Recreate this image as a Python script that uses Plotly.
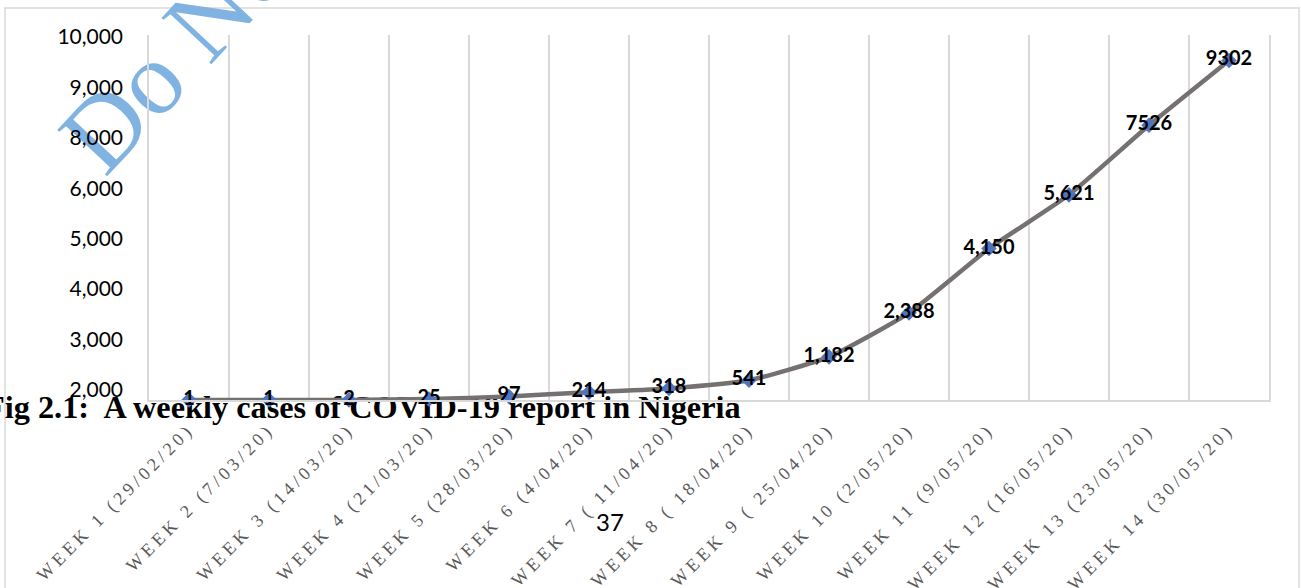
import numpy as np
import plotly.graph_objects as go

# Cas hebdomadaires COVID-19 au Nigeria (figure 2.1 du document scanné)

WEEKS = [
    "WEEK 1 (29/02/20)", "WEEK 2 (7/03/20)", "WEEK 3 (14/03/20)", "WEEK 4 (21/03/20)",
    "WEEK 5 (28/03/20)", "WEEK 6 (4/04/20)", "WEEK 7 ( 11/04/20)", "WEEK 8 ( 18/04/20)",
    "WEEK 9 ( 25/04/20)", "WEEK 10 (2/05/20)", "WEEK 11 (9/05/20)", "WEEK 12 (16/05/20)",
    "WEEK 13 (23/05/20)", "WEEK 14 (30/05/20)",
]
CASES = [1, 1, 2, 25, 97, 214, 318, 541, 1182, 2388, 4150, 5621, 7526, 9302]
CASE_LABELS = ["1", "1", "2", "25", "97", "214", "318", "541",
               "1,182", "2,388", "4,150", "5,621", "7526", "9302"]
Y_TICK_TEXT = ["10,000", "9,000", "8,000", "6,000", "5,000", "4,000", "3,000", "2,000"]

CAPTION = "Fig 2.1:  A weekly cases of COVID-19 report in Nigeria"
PAGE_NO = "37"
WATERMARK = "Do Not Copy"

Y_MAX = 10000

LINE_COLOR = "#767171"
MARKER_COLOR = "#4f75c2"
GRID_COLOR = "#d9d9d9"
WM_COLOR = "#80b3e2"

# taille de la page et marges (pixels)
W, H = 1301, 588
L, R, T, B = 149, 32, 35, 188
PW, PH = W - L - R, H - T - B


def px(x):
    # pixel -> coordonnée paper (x)
    return (x - L) / PW


def py(y):
    # pixel -> coordonnée paper (y)
    return (H - B - y) / PH


# étiquettes Y posées à intervalle régulier comme sur l'original
ytick_px = np.linspace(37, 390, len(Y_TICK_TEXT))
ytick_vals = [Y_MAX * (H - B - y) / PH for y in ytick_px]

xtick_text = ['<span style="letter-spacing:4px">%s</span>' % w for w in WEEKS]

fig = go.Figure()
fig.add_trace(go.Scatter(
    x=WEEKS, y=CASES,
    mode="lines+markers+text",
    text=CASE_LABELS,
    textposition="middle center",
    textfont=dict(family="Lato", size=20, color="black", weight="bold"),
    line=dict(color=LINE_COLOR, width=4.5, shape="spline", smoothing=0.5),
    marker=dict(symbol="diamond", size=12, color=MARKER_COLOR),
    cliponaxis=False,
    showlegend=False,
))

# filigrane : ligne invisible portant le texte, inclinée à 47°
wm_a = np.radians(47)
wm_x, wm_y = 113, 186
shapes = [
    # cadre du graphique
    dict(type="rect", xref="paper", yref="paper",
         x0=px(5), x1=px(1299), y0=py(8), y1=py(600),
         line=dict(color=GRID_COLOR, width=1.5), layer="below"),
    dict(type="line", xref="paper", yref="paper",
         x0=px(wm_x), y0=py(wm_y),
         x1=px(wm_x + 700 * np.cos(wm_a)), y1=py(wm_y - 700 * np.sin(wm_a)),
         line=dict(color="rgba(0,0,0,0)", width=0), layer="below",
         label=dict(text=WATERMARK, textposition="start", padding=0,
                    font=dict(family="Liberation Serif", size=104, color=WM_COLOR))),
    # légende de la figure (sous la courbe)
    dict(type="rect", xref="paper", yref="paper",
         x0=px(-18), x1=px(780), y0=py(420), y1=py(388),
         line=dict(color="rgba(0,0,0,0)", width=0), layer="below",
         label=dict(text=CAPTION, textposition="middle left", padding=0,
                    font=dict(family="Liberation Serif", size=32.3, color="black",
                              weight="bold"))),
]

fig.update_layout(
    width=W, height=H, autosize=False,
    margin=dict(l=L, r=R, t=T, b=B),
    plot_bgcolor="white", paper_bgcolor="white",
    shapes=shapes,
    xaxis=dict(
        type="category", range=[-0.5, len(WEEKS) - 0.5],
        tickson="boundaries", showgrid=True, gridcolor=GRID_COLOR, gridwidth=1.5,
        showline=True, linecolor=GRID_COLOR, linewidth=1.5,
        ticks="", tickangle=-45, tickmode="array", tickvals=WEEKS, ticktext=xtick_text,
        tickfont=dict(family="Liberation Serif", size=18, color="#595959"),
        ticklabelstandoff=10, automargin=False,
    ),
    yaxis=dict(
        range=[0, Y_MAX], showgrid=False, zeroline=False,
        showline=True, mirror=True, linecolor=GRID_COLOR, linewidth=1.5,
        ticks="", tickmode="array", tickvals=ytick_vals, ticktext=Y_TICK_TEXT,
        tickfont=dict(family="Lato", size=21, color="black"),
        ticklabelstandoff=20, automargin=False,
    ),
    annotations=[dict(
        text=PAGE_NO, xref="paper", yref="paper", x=px(610), y=py(538),
        showarrow=False, font=dict(family="Lato", size=24, color="black"),
    )],
)

# pas de marge du body pour que la figure occupe toute la fenêtre
fig.write_html("out.html", config={"displayModeBar": False},
               post_script="document.body.style.margin='0';")
